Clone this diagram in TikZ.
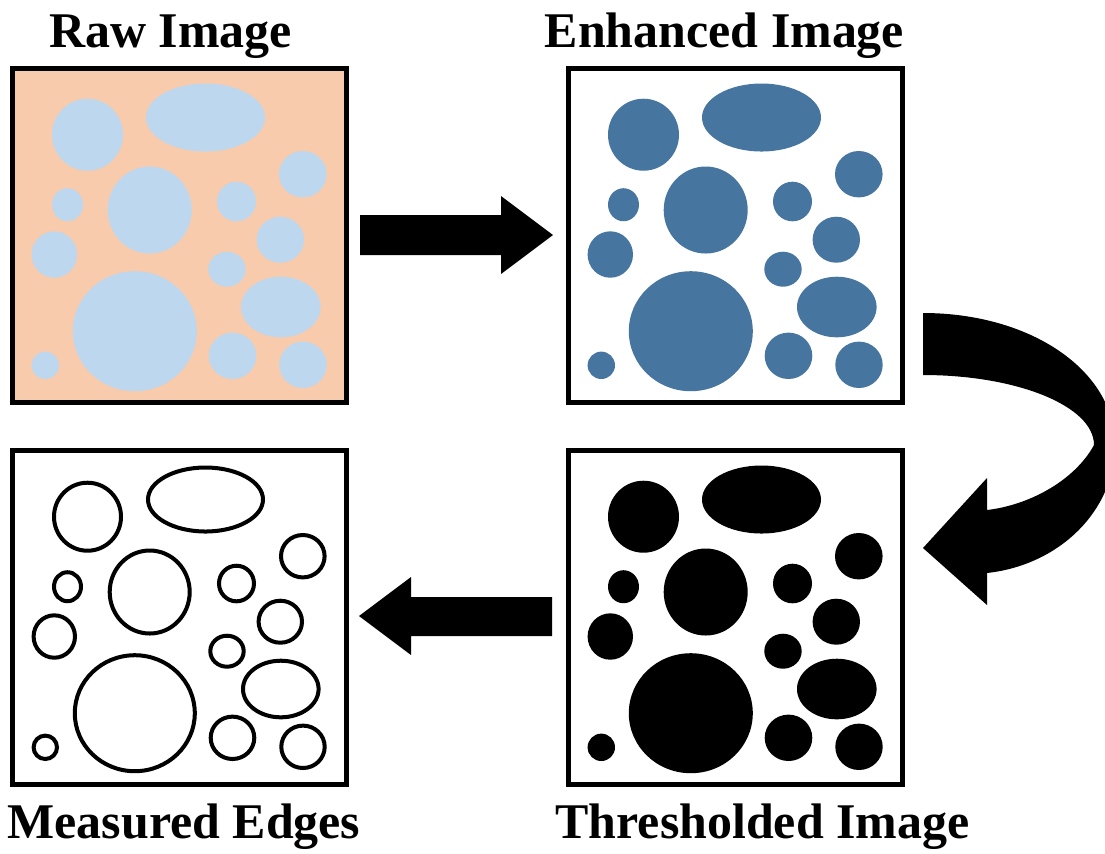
\documentclass[tikz,border=0pt]{standalone}
\usepackage{fontspec}
\setmainfont{Liberation Serif}
\definecolor{peach}{HTML}{F8CBAD}
\definecolor{lblue}{HTML}{BDD7EE}
\definecolor{dblue}{HTML}{4675A0}
\newcommand\blobd{0}
\newcommand\myblob[4]{\path[blobsty] (#1,#2) ellipse [x radius={#3-\blobd}, y radius={#4-\blobd}];}
\newcommand\myblobs{%
  \myblob{87.5}{134.7}{35.5}{36}
  \myblob{205.5}{117.5}{59.5}{34}
  \myblob{149.7}{210}{42}{43.5}
  \myblob{67.5}{204.7}{15.5}{16.5}
  \myblob{302.8}{174.2}{23.8}{23.2}
  \myblob{236.5}{201.5}{19.5}{19.8}
  \myblob{280.3}{239.7}{23.7}{23}
  \myblob{54.3}{254.5}{22.7}{23.2}
  \myblob{227}{269.2}{18.7}{17.5}
  \myblob{134.8}{331.2}{62}{60}
  \myblob{280.8}{307}{39.8}{30.3}
  \myblob{45.3}{365.3}{13.7}{13.7}
  \myblob{232.5}{355.8}{23.8}{23.2}
  \myblob{303}{364.8}{23.7}{23.2}}
\begin{document}
\begin{tikzpicture}[x=0.01cm,y=-0.01cm,
  panel/.style={draw=black, line width=1.42pt, minimum width=3.33cm, minimum height=3.335cm, inner sep=0pt, outer sep=0pt},
  title/.style={anchor=base, inner sep=0pt, font=\fontsize{14.2pt}{17pt}\selectfont\bfseries},
  blockarrow/.style={fill=black, draw=none}]
\useasboundingbox (0,0) rectangle (1105,853);
\clip (0,0) rectangle (1105,853);
% titles
\node[title] (traw) at (170.5,47) {Raw Image};
\node[title] (tenh) at (724.5,47) {Enhanced Image};
\node[title] (tmeas) at (184,838) {Measured Edges};
\node[title] (tthr) at (762.5,838) {Thresholded Image};
% panel 1: raw
\node[panel, fill=peach] (raw) at (179.5,235.25) {};
\begin{scope}[blobsty/.style={fill=lblue}]
  \myblobs
\end{scope}
% panel 2: enhanced
\node[panel, fill=white] (enh) at (735.5,235.25) {};
\begin{scope}[shift={(556,0)}, blobsty/.style={fill=dblue}]
  \myblobs
\end{scope}
% panel 3: measured edges
\node[panel, fill=white] (meas) at (179.5,617.25) {};
\begin{scope}[shift={(0,382)}, blobsty/.style={draw=black, line width=1.14pt}]
  \renewcommand\blobd{2}
  \myblobs
\end{scope}
% panel 4: thresholded
\node[panel, fill=white] (thr) at (735.5,617.25) {};
\begin{scope}[shift={(556,382)}, blobsty/.style={fill=black}]
  \myblobs
\end{scope}
% arrows
\fill[blockarrow] (360,215) -- (501,215) -- (501,196) -- (553,235) -- (501,274) -- (501,255) -- (360,255) -- cycle;
\fill[blockarrow] (552,597) -- (411,597) -- (411,577) -- (359,616) -- (411,655) -- (411,636) -- (552,636) -- cycle;
\fill[blockarrow] (923,313) .. controls (1030,313) and (1115,370) .. (1115,445)
  .. controls (1115,510) and (1060,565) .. (987,573)
  -- (987,605) -- (923,548) -- (987,478) -- (987,510)
  .. controls (1030,505) and (1075,480) .. (1094,445)
  .. controls (1094,406) and (1017,375) .. (923,375) -- cycle;
\end{tikzpicture}
\end{document}
